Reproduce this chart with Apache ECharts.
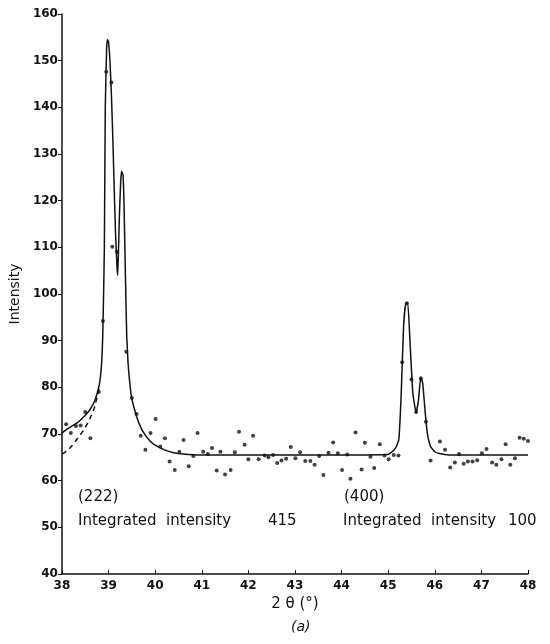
<!DOCTYPE html>
<html>
<head>
<meta charset="utf-8">
<script src="https://cdn.jsdelivr.net/npm/echarts@6/dist/echarts.min.js"></script>
<style>
  html, body { margin: 0; padding: 0; background: #fff; }
  #chart { width: 550px; height: 644px; }
</style>
</head>
<body>
<div id="chart"></div>
<script>
// measured points (2theta, intensity)
const obsX = [38.09, 38.19, 38.30, 38.40, 38.50, 38.61, 38.79, 38.88, 38.95, 39.06, 39.08, 39.18,
  39.38, 39.50, 39.60, 39.69, 39.79, 39.90, 40.01, 40.11, 40.21, 40.31, 40.42, 40.52, 40.61, 40.72,
  40.82, 40.91, 41.03, 41.13, 41.22, 41.32, 41.40, 41.50, 41.62, 41.71, 41.80, 41.92, 42.00, 42.10,
  42.22, 42.35, 42.43, 42.53, 42.62, 42.71, 42.81, 42.91, 43.01, 43.11, 43.22, 43.33, 43.42, 43.52,
  43.61, 43.72, 43.82, 43.92, 44.01, 44.12, 44.19, 44.30, 44.43, 44.50, 44.62, 44.70, 44.82, 44.92,
  45.01, 45.12, 45.22, 45.30, 45.40, 45.50, 45.60, 45.70, 45.81, 45.91, 46.11, 46.22, 46.33, 46.43,
  46.52, 46.62, 46.71, 46.81, 46.91, 47.01, 47.11, 47.23, 47.32, 47.43, 47.52, 47.62, 47.72, 47.82,
  47.91, 48.00];
const obsY = [72.1, 70.2, 71.7, 71.8, 74.7, 69.1, 79.0, 94.2, 147.6, 145.3, 110.1, 109.0,
  87.6, 77.7, 74.3, 69.6, 66.6, 70.2, 73.2, 67.3, 69.1, 64.1, 62.3, 66.2, 68.7, 63.1,
  65.3, 70.2, 66.2, 65.7, 67.0, 62.2, 66.2, 61.3, 62.3, 66.1, 70.5, 67.7, 64.6, 69.6,
  64.6, 65.4, 65.0, 65.5, 63.8, 64.3, 64.7, 67.2, 64.8, 66.1, 64.2, 64.2, 63.4, 65.3,
  61.2, 66.0, 68.2, 65.9, 62.3, 65.6, 60.4, 70.3, 62.4, 68.1, 65.1, 62.7, 67.8, 65.4,
  64.6, 65.5, 65.4, 85.4, 98.0, 81.7, 74.7, 81.9, 72.6, 64.3, 68.4, 66.6, 62.8, 63.9,
  65.7, 63.6, 64.1, 64.1, 64.4, 65.9, 66.8, 63.9, 63.4, 64.6, 67.8, 63.4, 64.8, 69.2,
  69.0, 68.5];

// fitted profile (solid)
const fitX = [38.0, 38.1, 38.2, 38.3, 38.4, 38.5, 38.6, 38.7, 38.8, 38.85, 38.88, 38.91, 38.93,
  38.96, 38.98, 39.0, 39.03, 39.06, 39.09, 39.12, 39.15, 39.18, 39.195, 39.21, 39.23, 39.26, 39.28,
  39.31, 39.33, 39.35, 39.37, 39.39, 39.42, 39.46, 39.5, 39.6, 39.7, 39.8, 39.9, 40.0, 40.2, 40.4,
  40.6, 41.0, 42.0, 43.0, 44.0, 45.0, 45.06, 45.12, 45.17, 45.23, 45.28, 45.33, 45.38, 45.42, 45.47,
  45.53, 45.6, 45.65, 45.7, 45.74, 45.79, 45.84, 45.91, 46.0, 46.1, 46.3, 47.0, 48.0];
const fitY = [70.2, 71.0, 71.6, 72.2, 73.0, 74.0, 75.2, 77.0, 80.5, 85.0, 93.0, 110.0, 140.0,
  153.0, 154.5, 154.0, 150.0, 143.0, 134.0, 123.0, 113.0, 106.0, 104.0, 108.0, 116.0, 124.0, 126.3,
  125.5, 120.0, 110.0, 100.0, 91.0, 85.0, 80.5, 77.5, 73.8, 71.2, 69.6, 68.4, 67.6, 66.6, 66.0,
  65.7, 65.5, 65.5, 65.5, 65.5, 65.6, 66.0, 66.5, 67.2, 69.0, 78.7, 93.0, 98.0, 98.0, 89.4,
  78.7, 74.6, 77.3, 82.2, 80.9, 75.1, 70.2, 67.3, 66.2, 65.8, 65.5, 65.5, 65.5];

// dashed background branch
const dashX = [38.0, 38.1, 38.2, 38.3, 38.4, 38.5, 38.6, 38.7, 38.8];
const dashY = [65.7, 66.3, 67.3, 68.6, 69.9, 71.4, 73.3, 75.8, 80.0];

const zip = (xs, ys) => xs.map((x, i) => [x, ys[i]]);

const chart = echarts.init(document.getElementById('chart'));
const font = '"DejaVu Sans", sans-serif';
const note = (left, top, text) => ({
  type: 'text', left: left, top: top,
  style: { text: text, fontSize: 15, fontFamily: font, fill: '#111' }
});

chart.setOption({
  animation: false,
  backgroundColor: '#fff',
  grid: { left: 58, right: 22, top: 14, bottom: 70 },
  xAxis: {
    type: 'value', min: 38, max: 48, interval: 1,
    name: '2 θ (°)', nameLocation: 'middle', nameGap: 23,
    nameTextStyle: { color: '#111', fontSize: 15, fontFamily: font },
    axisLine: { lineStyle: { color: '#111', width: 1.5 } },
    axisTick: { inside: true, length: 4, lineStyle: { color: '#111' } },
    axisLabel: { color: '#111', fontSize: 12, fontFamily: font, fontWeight: 'bold', margin: 6 },
    splitLine: { show: false }
  },
  yAxis: {
    type: 'value', min: 40, max: 160, interval: 10,
    name: 'Intensity', nameLocation: 'middle', nameGap: 38, nameRotate: 90,
    nameTextStyle: { color: '#111', fontSize: 14, fontFamily: font },
    axisLine: { show: true, lineStyle: { color: '#111', width: 1.5 } },
    axisTick: { show: true, length: 4, lineStyle: { color: '#111' } },
    axisLabel: { color: '#111', fontSize: 12, fontFamily: font, fontWeight: 'bold', margin: 4 },
    splitLine: { show: false }
  },
  graphic: [
    note(78, 490, '(222)'),
    note(78, 514, 'Integrated  intensity'),
    note(268, 514, '415'),
    note(344, 490, '(400)'),
    note(343, 514, 'Integrated  intensity'),
    note(508, 514, '100'),
    { type: 'text', left: 291, top: 620, style: { text: '(a)', fontSize: 14, fontStyle: 'italic', fontFamily: font, fill: '#111' } }
  ],
  series: [
    {
      type: 'line', data: zip(fitX, fitY), showSymbol: false, smooth: 0.15,
      lineStyle: { color: '#111', width: 1.5 }, z: 2
    },
    {
      type: 'line', data: zip(dashX, dashY), showSymbol: false, smooth: 0.3,
      lineStyle: { color: '#111', width: 1.5, type: [5, 4] }, z: 2
    },
    {
      type: 'scatter', data: zip(obsX, obsY), symbolSize: 4,
      itemStyle: { color: '#111' }, z: 3
    }
  ]
});
</script>
</body>
</html>
